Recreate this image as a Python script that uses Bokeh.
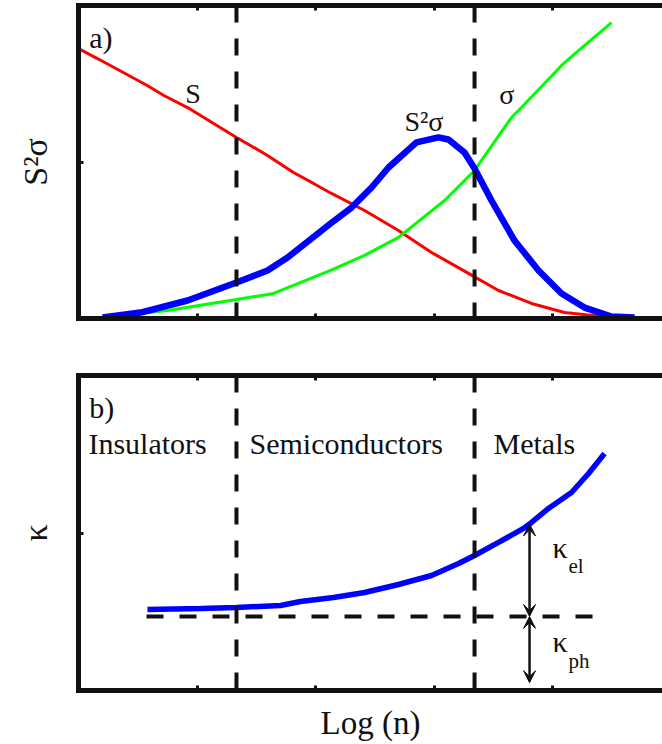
import numpy as np
from bokeh.plotting import figure
from bokeh.layouts import column
from bokeh.models import Range1d, LinearAxis, FixedTicker, Span, Arrow, VeeHead
from bokeh.core.properties import value
from bokeh.embed import file_html
from bokeh.resources import INLINE

FONT = "Liberation Serif"
INK = "#111111"

# ---------------- Panel a) : S, sigma, S^2 sigma vs Log(n) ----------------
s_x = [0.0, 0.16, 0.58, 0.72, 0.92, 1.333, 1.595, 1.814, 1.983, 2.135, 2.414, 2.70,
       2.979, 3.291, 3.544, 3.823, 4.101, 4.498, 4.878]
s_y = [1.725, 1.661, 1.489, 1.425, 1.348, 1.157, 1.042, 0.933, 0.863, 0.799, 0.690,
       0.562, 0.422, 0.288, 0.179, 0.096, 0.038, 0.006, 0.006]

sigma_x = [0.076, 0.211, 0.751, 1.333, 1.646, 2.127, 2.414, 2.70, 3.089, 3.342, 3.654,
           3.738, 4.076, 4.219, 4.498]
sigma_y = [0.0, 0.006, 0.051, 0.121, 0.160, 0.307, 0.403, 0.518, 0.754, 0.946, 1.284,
           1.348, 1.617, 1.712, 1.891]

pf_x = [0.203, 0.523, 0.920, 1.333, 1.595, 1.764, 2.127, 2.304, 2.473, 2.616, 2.852,
        3.038, 3.122, 3.257, 3.342, 3.485, 3.679, 3.882, 4.076, 4.270, 4.498, 4.692]
pf_y = [0.006, 0.038, 0.115, 0.230, 0.307, 0.390, 0.607, 0.709, 0.837, 0.965, 1.125,
        1.157, 1.144, 1.061, 0.958, 0.754, 0.498, 0.307, 0.160, 0.070, 0.013, 0.006]

# ---------------- Panel b) : kappa vs Log(n) ----------------
kappa_x = [0.582, 1.030, 1.333, 1.705, 1.873, 2.152, 2.414, 2.700, 2.979, 3.207, 3.342,
           3.544, 3.755, 3.823, 3.966, 4.160, 4.304, 4.439]
kappa_y = [0.514, 0.521, 0.527, 0.540, 0.565, 0.590, 0.622, 0.673, 0.730, 0.806, 0.857,
           0.940, 1.029, 1.067, 1.156, 1.257, 1.378, 1.505]

kappa_ph_level = 0.47
kappa_ph_extent = [0.574, 4.41]
kappa_arrow_x = 3.806
kappa_arrow_bottom = 0.05

region_bounds = [1.333, 3.342]
region_names = ["Insulators", "Semiconductors", "Metals"]

x_ticks = [1, 2, 3, 4]
y_ticks = [1]
X_MAX = 4.928


def make_panel(frame_h, top_border, bottom_border, ylabel, xlabel=None):
    p = figure(frame_width=584, frame_height=frame_h,
               x_range=Range1d(0, X_MAX), y_range=Range1d(0, 2),
               min_border_left=78, min_border_right=0,
               min_border_top=top_border, min_border_bottom=bottom_border,
               toolbar_location=None, output_backend="svg")
    p.outline_line_color = None
    p.xgrid.grid_line_color = None
    p.ygrid.grid_line_color = None
    p.background_fill_color = "white"
    p.border_fill_color = "white"
    top = LinearAxis()
    p.add_layout(top, "above")
    for ax in p.xaxis:
        ax.ticker = FixedTicker(ticks=x_ticks)
        ax.major_label_overrides = {t: "" for t in x_ticks}
    p.yaxis.ticker = FixedTicker(ticks=y_ticks)
    p.yaxis.major_label_overrides = {t: "" for t in y_ticks}
    for ax in p.axis:
        ax.axis_line_width = 5
        ax.axis_line_color = INK
        ax.axis_line_cap = "square"
        ax.major_tick_in = 5
        ax.major_tick_out = 0
        ax.major_tick_line_width = 3
        ax.major_tick_line_color = INK
        ax.minor_tick_line_color = None
        ax.major_label_text_font_size = "1px"
        ax.major_label_standoff = 0
    p.yaxis.axis_label = ylabel
    p.yaxis.axis_label_text_font = FONT
    p.yaxis.axis_label_text_font_size = "34px"
    p.yaxis.axis_label_text_font_style = "normal"
    p.yaxis.axis_label_text_color = INK
    p.yaxis.axis_label_standoff = 25
    if xlabel:
        p.below[0].axis_label = xlabel
        p.below[0].axis_label_text_font = FONT
        p.below[0].axis_label_text_font_size = "33px"
        p.below[0].axis_label_text_font_style = "normal"
        p.below[0].axis_label_text_color = INK
        p.below[0].axis_label_standoff = 14
    for b in region_bounds:
        p.add_layout(Span(location=b, dimension="height", line_color=INK,
                          line_width=4, line_dash="17 16"))
    return p


def txt(p, x, y, s, size="30px"):
    p.text(x=[x], y=[y], text=[s], text_font=value(FONT), text_font_size=size,
           text_align="left", text_baseline="alphabetic", text_color=INK)


UP = 0.07  # compensates the svg baseline offset

# ---- panel a
pa = make_panel(313, 5, 22, "S²σ")
pa.line(s_x, s_y, line_color="#ff0000", line_width=3)
pa.line(sigma_x, sigma_y, line_color="#00ff00", line_width=3)
pa.line(pf_x, pf_y, line_color="#0000ff", line_width=6.5)
txt(pa, 0.09, 1.725 + UP, "a)")
txt(pa, 0.90, 1.367 + UP, "S", "28px")
txt(pa, 2.75, 1.188 + UP, "S²σ", "28px")
txt(pa, 3.55, 1.361 + UP, "σ", "28px")

# ---- panel b
pb = make_panel(315, 35, 54, "κ", "Log (n)")
pb.line(kappa_ph_extent, [kappa_ph_level, kappa_ph_level],
        line_color=INK, line_width=4, line_dash="17 16")
pb.line(kappa_x, kappa_y, line_color="#0000ff", line_width=5.5)
txt(pb, 0.09, 1.727 + UP, "b)")
for name, xpos in zip(region_names, [0.084, 1.443, 3.502]):
    txt(pb, xpos, 1.498 + UP, name)

kappa_at_arrow = float(np.interp(kappa_arrow_x, kappa_x, kappa_y))
for y0, y1 in [(kappa_at_arrow, kappa_ph_level), (kappa_ph_level, kappa_arrow_bottom)]:
    pb.add_layout(Arrow(x_start=kappa_arrow_x, y_start=y0, x_end=kappa_arrow_x, y_end=y1,
                        line_color=INK, line_width=2.5,
                        start=VeeHead(size=12, line_color=INK, fill_color=INK, line_width=1),
                        end=VeeHead(size=12, line_color=INK, fill_color=INK, line_width=1)))

txt(pb, 4.0, 0.838 + UP, "κ")
txt(pb, 4.135, 0.743 + 0.05, "el", "21px")
txt(pb, 4.0, 0.241 + UP, "κ")
txt(pb, 4.135, 0.14 + 0.05, "ph", "21px")

layout = column(pa, pb, spacing=0)
open("out.html", "w").write(file_html(layout, INLINE))
